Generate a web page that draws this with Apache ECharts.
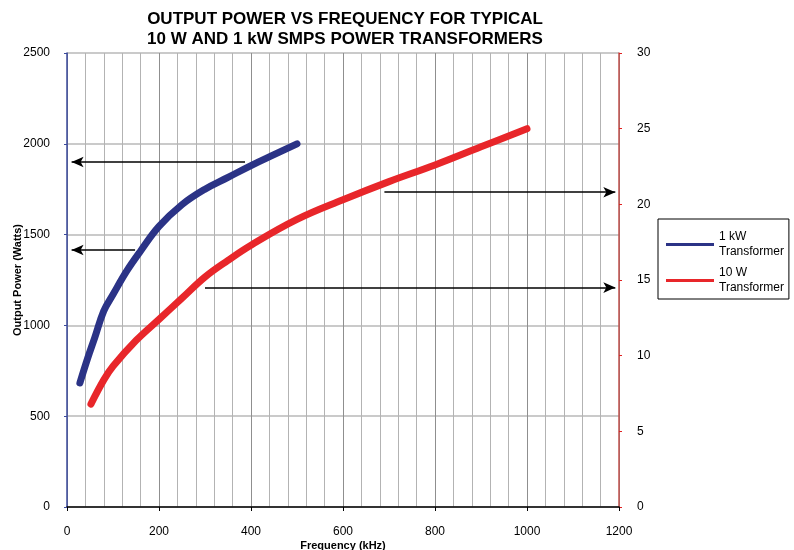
<!DOCTYPE html>
<html><head><meta charset="utf-8">
<script src="https://cdn.jsdelivr.net/npm/echarts@6/dist/echarts.min.js"></script>
<style>html,body{margin:0;padding:0;background:#fff}#c{width:794px;height:550px}</style>
</head><body><div id="c"></div>
<script>
const titleLines = ['OUTPUT POWER VS FREQUENCY FOR TYPICAL', '10 W AND 1 kW SMPS POWER TRANSFORMERS'];
const freq1kW = [28, 45, 60, 80, 100, 130, 160, 200, 250, 300, 350, 400, 450, 500];
const power1kW = [683, 820, 930, 1080, 1170, 1300, 1410, 1545, 1665, 1750, 1815, 1880, 1940, 2000];
const freq10W = [52, 80, 100, 150, 200, 250, 300, 350, 400, 500, 600, 700, 800, 900, 1000];
const power10W = [6.8, 8.4, 9.3, 11.0, 12.4, 13.8, 15.2, 16.3, 17.3, 19.0, 20.3, 21.5, 22.6, 23.8, 25.0];
const leftArrows = [[[387, 1900], [10, 1900]], [[148, 1415], [10, 1415]]];
const rightArrows = [[[690, 20.8], [1192, 20.8]], [[300, 14.5], [1192, 14.5]]];
const legendLabels = {'1 kW Transformer': '1 kW\nTransformer', '10 W Transformer': '10 W\nTransformer'};

const font = 'Liberation Sans, Arial, sans-serif';
const chart = echarts.init(document.getElementById('c'));
const plain = v => String(v);
const arrowLine = (arr) => ({
  silent: true, symbol: ['none', 'arrow'], symbolSize: [8, 12],
  label: {show: false},
  lineStyle: {color: '#000', width: 1.5, type: 'solid'},
  data: arr.map(a => [{coord: a[0]}, {coord: a[1]}])
});
chart.setOption({
  animation: false,
  textStyle: {fontFamily: font},
  title: {
    text: titleLines.join('\n'), left: 340, top: 4, textAlign: 'center',
    textStyle: {fontSize: 17, fontWeight: 'bold', color: '#000', lineHeight: 20, fontFamily: font}
  },
  grid: {left: 67, right: 175, top: 53, bottom: 43, containLabel: false, outerBoundsMode: 'none'},
  legend: {
    orient: 'vertical', left: 658, top: 219, width: 130,
    backgroundColor: '#fff', borderColor: '#000', borderWidth: 1,
    padding: [12, 5, 5, 8], itemGap: 9, itemWidth: 48, itemHeight: 3,
    icon: 'rect',
    textStyle: {fontSize: 12, color: '#000', lineHeight: 15, fontFamily: font, verticalAlign: 'top', padding: [-6, 0, 0, 0]},
    formatter: n => legendLabels[n],
    data: ['1 kW Transformer', '10 W Transformer']
  },
  xAxis: {
    type: 'value', min: 0, max: 1200, interval: 200,
    name: 'Frequency (kHz)', nameLocation: 'middle', nameGap: 33, nameMoveOverlap: false,
    nameTextStyle: {fontSize: 11, fontWeight: 'bold', color: '#000', fontFamily: font},
    axisLine: {lineStyle: {color: '#000', width: 1.5}},
    axisTick: {show: true, inside: false, length: 4, lineStyle: {color: '#000'}},
    axisLabel: {fontSize: 12, color: '#000', margin: 19, formatter: plain},
    splitLine: {show: true, lineStyle: {color: '#8f8f8f', width: 1}},
    minorTick: {show: false, splitNumber: 5},
    minorSplitLine: {show: true, lineStyle: {color: '#b3b3b3', width: 1}}
  },
  yAxis: [{
    type: 'value', min: 0, max: 2500, interval: 500,
    name: 'Output Power (Watts)', nameLocation: 'middle', nameGap: 44, nameMoveOverlap: false,
    nameTextStyle: {fontSize: 11, fontWeight: 'bold', color: '#000', fontFamily: font},
    axisLine: {show: true, lineStyle: {color: '#3b4a9c', width: 1.5}},
    axisTick: {show: true, length: 3, lineStyle: {color: '#3b4a9c'}},
    axisLabel: {fontSize: 12, color: '#000', margin: 17, formatter: plain},
    splitLine: {show: true, lineStyle: {color: '#b8b8b8', width: 1.5}}
  }, {
    type: 'value', min: 0, max: 30, interval: 5, position: 'right',
    axisLine: {show: true, lineStyle: {color: '#c0504d', width: 1.5}},
    axisTick: {show: true, length: 3, lineStyle: {color: '#e02020'}},
    axisLabel: {fontSize: 12, color: '#000', margin: 18, formatter: plain},
    splitLine: {show: false}
  }],
  series: [{
    name: '1 kW Transformer', type: 'line', yAxisIndex: 0, smooth: 0.4,
    showSymbol: false, symbol: 'none', color: '#2b3386',
    lineStyle: {width: 7, color: '#2b3386', cap: 'round', join: 'round'},
    data: freq1kW.map((f, i) => [f, power1kW[i]]),
    markLine: arrowLine(leftArrows), z: 3
  }, {
    name: '10 W Transformer', type: 'line', yAxisIndex: 1, smooth: 0.4,
    showSymbol: false, symbol: 'none', color: '#e8262a',
    lineStyle: {width: 7, color: '#e8262a', cap: 'round', join: 'round'},
    data: freq10W.map((f, i) => [f, power10W[i]]),
    markLine: arrowLine(rightArrows), z: 3
  }]
});
</script></body></html>
